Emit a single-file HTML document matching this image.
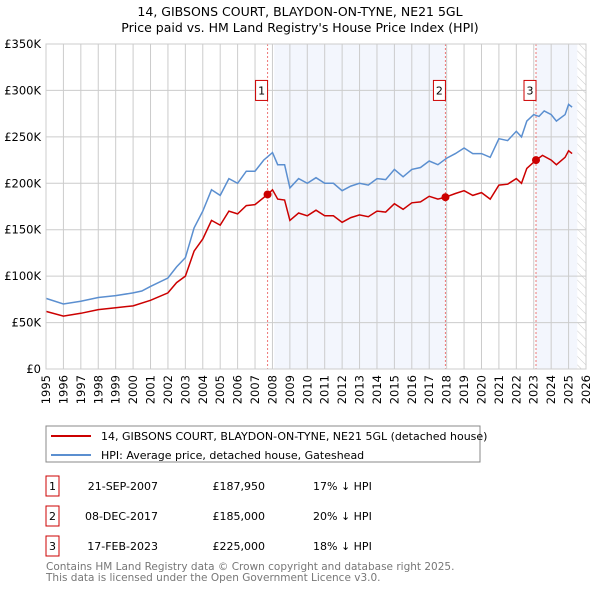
<!DOCTYPE html>
<html><head><meta charset="utf-8"><style>
body{margin:0;background:#fff;font-family:"Liberation Sans","DejaVu Sans",sans-serif;}
</style></head><body>
<svg width="600" height="590" xmlns="http://www.w3.org/2000/svg" font-family="DejaVu Sans, Liberation Sans, sans-serif">
<defs><pattern id="hatch" width="6" height="6" patternUnits="userSpaceOnUse" patternTransform="rotate(-45)"><line x1="0" y1="0" x2="0" y2="6" stroke="#ccc" stroke-width="1"/></pattern></defs>
<text x="300" y="16" font-size="12.5" text-anchor="middle">14, GIBSONS COURT, BLAYDON-ON-TYNE, NE21 5GL</text>
<text x="300" y="32" font-size="12.5" text-anchor="middle">Price paid vs. HM Land Registry's House Price Index (HPI)</text>
<g id="plot"></g>
<g>
<rect x="46" y="426" width="434" height="36" fill="#fff" stroke="#888"/>
<line x1="51" y1="436" x2="91" y2="436" stroke="#cc0000" stroke-width="2"/>
<text x="101" y="440" font-size="11">14, GIBSONS COURT, BLAYDON-ON-TYNE, NE21 5GL (detached house)</text>
<line x1="51" y1="455" x2="91" y2="455" stroke="#5b8fd0" stroke-width="2"/>
<text x="101" y="459" font-size="11">HPI: Average price, detached house, Gateshead</text>
</g>
<g font-size="11">
<rect x="46" y="476" width="13" height="20" fill="#fff" stroke="#cc0000"/><text x="52.5" y="490" text-anchor="middle">1</text>
<text x="158" y="490" text-anchor="end">21-SEP-2007</text><text x="265" y="490" text-anchor="end">£187,950</text><text x="313" y="490">17% ↓ HPI</text>
<rect x="46" y="506" width="13" height="20" fill="#fff" stroke="#cc0000"/><text x="52.5" y="520" text-anchor="middle">2</text>
<text x="158" y="520" text-anchor="end">08-DEC-2017</text><text x="265" y="520" text-anchor="end">£185,000</text><text x="313" y="520">20% ↓ HPI</text>
<rect x="46" y="536" width="13" height="20" fill="#fff" stroke="#cc0000"/><text x="52.5" y="550" text-anchor="middle">3</text>
<text x="158" y="550" text-anchor="end">17-FEB-2023</text><text x="265" y="550" text-anchor="end">£225,000</text><text x="313" y="550">18% ↓ HPI</text>
</g>
<text x="46" y="570" font-size="10.5" fill="#777">Contains HM Land Registry data © Crown copyright and database right 2025.</text>
<text x="46" y="581" font-size="10.5" fill="#777">This data is licensed under the Open Government Licence v3.0.</text>
</svg>
<script>
const hpiYears=[1995,1996,1997,1998,1999,2000,2000.5,2001,2002,2002.5,2003,2003.5,2004,2004.5,2005,2005.5,2006,2006.5,2007,2007.5,2008,2008.3,2008.7,2009,2009.5,2010,2010.5,2011,2011.5,2012,2012.5,2013,2013.5,2014,2014.5,2015,2015.5,2016,2016.5,2017,2017.5,2018,2018.5,2019,2019.5,2020,2020.5,2021,2021.5,2022,2022.3,2022.6,2023,2023.3,2023.6,2024,2024.3,2024.8,2025,2025.2];
const hpiValues=[76,70,73,77,79,82,84,89,98,110,120,152,170,193,187,205,200,213,213,225,233,220,220,195,205,200,206,200,200,192,197,200,198,205,204,215,207,215,217,224,220,227,232,238,232,232,228,248,246,256,250,267,274,272,278,274,267,274,285,282];
const priceYears=[1995,1996,1997,1998,1999,2000,2001,2002,2002.5,2003,2003.5,2004,2004.5,2005,2005.5,2006,2006.5,2007,2007.72,2008,2008.3,2008.7,2009,2009.5,2010,2010.5,2011,2011.5,2012,2012.5,2013,2013.5,2014,2014.5,2015,2015.5,2016,2016.5,2017,2017.5,2017.93,2018.5,2019,2019.5,2020,2020.5,2021,2021.5,2022,2022.3,2022.6,2023.13,2023.5,2024,2024.3,2024.8,2025,2025.2];
const priceValues=[62,57,60,64,66,68,74,82,93,100,127,140,160,155,170,167,176,177,188,193,183,182,160,168,165,171,165,165,158,163,166,164,170,169,178,172,179,180,186,183,185,189,192,187,190,183,198,199,205,200,216,225,230,225,220,228,235,232];
const saleYears=[2007.72,2017.93,2023.13];
const saleValues=[187.95,185,225];
const saleLabels=["1","2","3"];
const yTicks=[0,50,100,150,200,250,300,350];
const xTicks=[];for(let y=1995;y<=2026;y++)xTicks.push(y);
const L=46,R=586,T=44,B=369;
const X=y=>L+(y-1995)/(2026-1995)*(R-L);
const Y=v=>B-v/350*(B-T);
const NS="http://www.w3.org/2000/svg";
const g=document.getElementById('plot');
function mk(t,a){const e=document.createElementNS(NS,t);for(const k in a)e.setAttribute(k,a[k]);g.appendChild(e);return e;}
let e;
e=mk('rect',{x:X(2008.1),y:T,width:X(saleYears[1])-X(2008.1),height:B-T,fill:'#eef2fc',opacity:0.7});

e=mk('rect',{x:X(saleYears[2]),y:T,width:X(2025.5)-X(saleYears[2]),height:B-T,fill:'#eef2fc',opacity:0.7});

e=mk('rect',{x:X(2025.5),y:T,width:R-X(2025.5),height:B-T,fill:'url(#hatch)'});

yTicks.forEach(v=>{e=mk('line',{x1:L,x2:R,y1:Y(v),y2:Y(v),stroke:'#ccc'});

e=mk('text',{x:L-5,y:Y(v)+4,'font-size':11.5,'text-anchor':'end'});e.textContent=v===0?'£0':'£'+v+'K';
});
xTicks.forEach(y=>{e=mk('line',{x1:X(y),x2:X(y),y1:T,y2:B,stroke:'#ccc'});

e=mk('text',{x:0,y:0,'font-size':11.5,'text-anchor':'end',transform:`translate(${X(y)+4},${B+6}) rotate(-90)`});e.textContent=y;
});
saleYears.forEach((s,i)=>{e=mk('line',{x1:X(s),x2:X(s),y1:T,y2:B,stroke:'#ee7777','stroke-dasharray':'2,2'});
});
function path(xs,vs,c,n){e=mk('path',{d:xs.map((x,i)=>(i?'L':'M')+X(x).toFixed(1)+','+Y(vs[i]).toFixed(1)).join(''),fill:'none',stroke:c,'stroke-width':1.5});
}
path(hpiYears,hpiValues,'#5b8fd0','hpi-line');
path(priceYears,priceValues,'#cc0000','price-line');
saleYears.forEach((s,i)=>{e=mk('circle',{cx:X(s),cy:Y(saleValues[i]),r:4,fill:'#cc0000'});

e=mk('rect',{x:X(s)-12,y:Y(300)-10,width:12,height:20,fill:'#fff',stroke:'#cc0000'});

e=mk('text',{x:X(s)-6,y:Y(300)+4,'font-size':11,'text-anchor':'middle'});e.textContent=saleLabels[i];
});
e=mk('rect',{x:L,y:T,width:R-L,height:B-T,fill:'none',stroke:'#ccc'});

</script>
</body></html>
